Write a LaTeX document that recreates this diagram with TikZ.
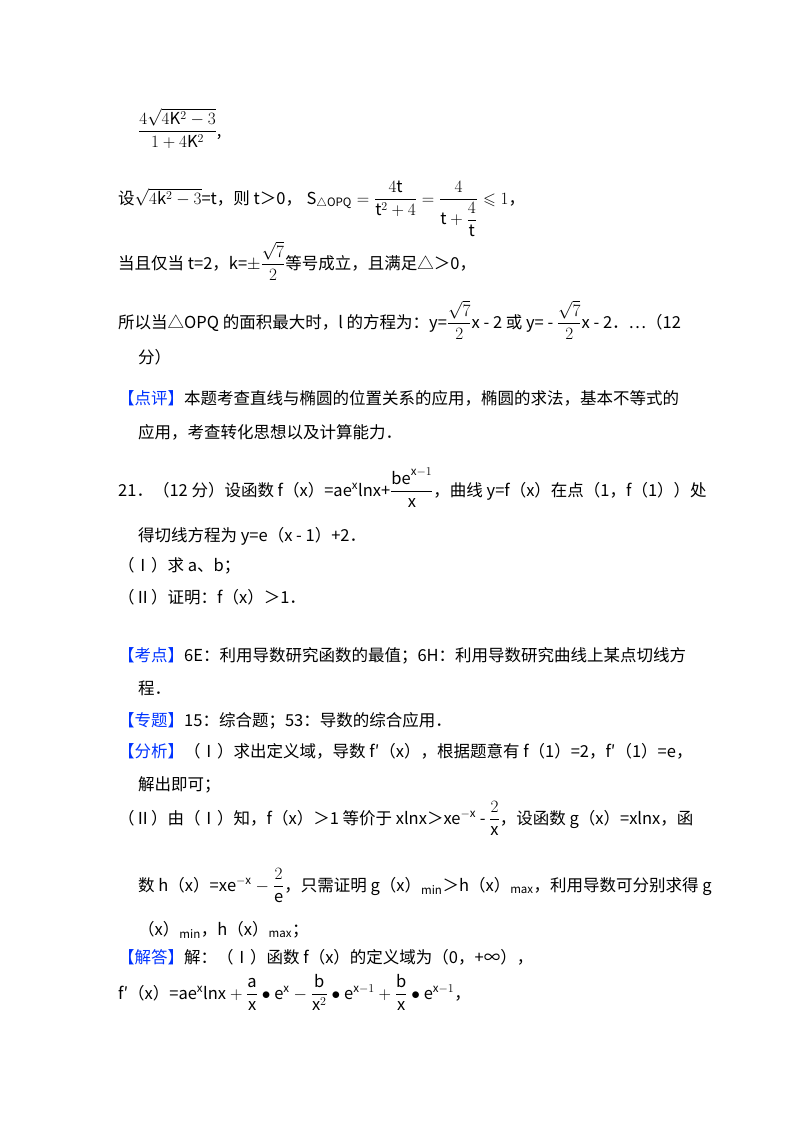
\documentclass[tikz,border=0pt]{standalone}
\usepackage{amsmath,amssymb}
\usepackage{fontspec}
\setmainfont{Noto Sans CJK SC}
\begin{document}
\begin{tikzpicture}[x=1pt,y=-1pt,
  ln/.style={anchor=base west,inner sep=0pt,font=\fontsize{16.5}{18}\selectfont}]
\useasboundingbox (0,0) rectangle (800,1132);
\node[ln] (l1) at (138,136) {$\dfrac{4\sqrt{4\mathrm{K}^2-3}}{1+4\mathrm{K}^2}$,};
\node[ln] (l2) at (118,204) {设$\sqrt{4\mathrm{k}^2-3}$=t，则 t＞0，\;$\mathrm{S}_{\triangle \mathrm{OPQ}}=\dfrac{4\mathrm{t}}{\mathrm{t}^2+4}=\dfrac{4}{\mathrm{t}+\dfrac{4}{\mathrm{t}}}\leqslant 1$，};
\node[ln] (l3) at (118,269) {当且仅当 t=2，k=$\pm\dfrac{\sqrt7}{2}$等号成立，且满足△＞0，};
\node[ln] (l4) at (118,328) {所以当△OPQ 的面积最大时，l 的方程为：y=$\dfrac{\sqrt7}{2}$x - 2 或 y= - $\dfrac{\sqrt7}{2}$x - 2．…（12};
\node[ln] (l5) at (138,363) {分）};
\node[ln] (l6) at (118,404) {{\color{blue!80!cyan}【点评】}本题考查直线与椭圆的位置关系的应用，椭圆的求法，基本不等式的};
\node[ln] (l7) at (138,438) {应用，考查转化思想以及计算能力．};
\node[ln] (l8) at (118,496) {21．（12 分）设函数 f（x）=ae$^{\mathrm{x}}$lnx+$\dfrac{\mathrm{be}^{\mathrm{x}-1}}{\mathrm{x}}$，曲线 y=f（x）在点（1，f（1））处};
\node[ln] (l9) at (138,541) {得切线方程为 y=e（x - 1）+2．};
\node[ln] (l10) at (118,571) {（Ⅰ）求 a、b；};
\node[ln] (l11) at (118,603) {（Ⅱ）证明：f（x）＞1．};
\node[ln] (l12) at (118,661) {{\color{blue!80!cyan}【考点】}6E：利用导数研究函数的最值；6H：利用导数研究曲线上某点切线方};
\node[ln] (l13) at (138,694) {程．};
\node[ln] (l14) at (118,726) {{\color{blue!80!cyan}【专题】}15：综合题；53：导数的综合应用．};
\node[ln] (l15) at (118,757) {{\color{blue!80!cyan}【分析】}（Ⅰ）求出定义域，导数 f′（x），根据题意有 f（1）=2，f′（1）=e，};
\node[ln] (l16) at (138,790) {解出即可；};
\node[ln] (l17) at (118,824) {（Ⅱ）由（Ⅰ）知，f（x）＞1 等价于 xlnx＞xe$^{-\mathrm{x}}$ - $\dfrac{2}{\mathrm{x}}$，设函数 g（x）=xlnx，函};
\node[ln] (l18) at (138,891) {数 h（x）=$\mathrm{xe}^{-\mathrm{x}}-\dfrac{2}{\mathrm{e}}$，只需证明 g（x）$_{\text{min}}$＞h（x）$_{\text{max}}$，利用导数可分别求得 g};
\node[ln] (l19) at (138,935) {（x）$_{\text{min}}$，h（x）$_{\text{max}}$；};
\node[ln] (l20) at (118,963) {{\color{blue!80!cyan}【解答】}解：（Ⅰ）函数 f（x）的定义域为（0，+∞），};
\node[ln] (l21) at (118,999) {f′（x）=$\mathrm{ae}^{\mathrm{x}}\mathrm{lnx}+\dfrac{\mathrm{a}}{\mathrm{x}}\bullet \mathrm{e}^{\mathrm{x}}-\dfrac{\mathrm{b}}{\mathrm{x}^2}\bullet \mathrm{e}^{\mathrm{x}-1}+\dfrac{\mathrm{b}}{\mathrm{x}}\bullet \mathrm{e}^{\mathrm{x}-1}$，};
\end{tikzpicture}
\end{document}
